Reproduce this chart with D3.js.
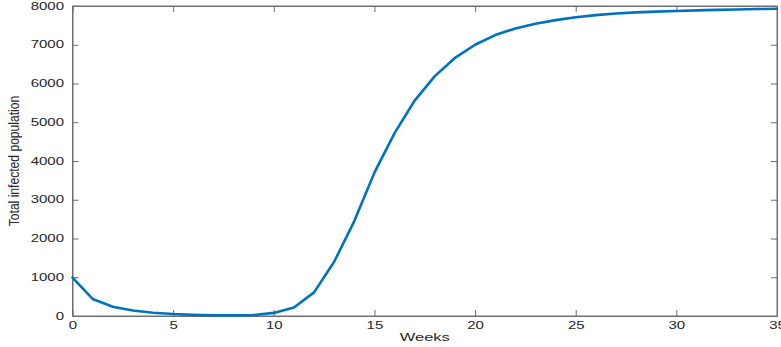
<!DOCTYPE html>
<html>
<head>
<meta charset="utf-8">
<script src="https://cdn.jsdelivr.net/npm/d3@7"></script>
<style>
  html, body { margin: 0; padding: 0; background: #fff; }
  svg { display: block; }
  text { font-family: "Liberation Sans", Arial, Helvetica, sans-serif; fill: #262626; }
</style>
</head>
<body>
<svg id="chart" width="781" height="347"></svg>
<script>
const weeks = d3.range(0, 36);
const infected = [990, 440, 240, 140, 85, 50, 30, 20, 15, 25,
                  80, 220, 610, 1400, 2450, 3700, 4720, 5560, 6190, 6660,
                  7000, 7250, 7420, 7540, 7635, 7710, 7765, 7805, 7835, 7855,
                  7872, 7887, 7900, 7911, 7921, 7930];
const xTicks = [0, 5, 10, 15, 20, 25, 30, 35];
const yTicks = [0, 1000, 2000, 3000, 4000, 5000, 6000, 7000, 8000];
const xLabel = "Weeks";
const yLabel = "Total infected population";

const svg = d3.select("#chart");
const pL = 72.5, pR = 777, pT = 6, pB = 316;
const x = d3.scaleLinear().domain([0, 35]).range([pL, pR]);
const y = d3.scaleLinear().domain([0, 8000]).range([pB, pT]);
const axisColor = "#6e6e6e";
const sx = 1.5;

// box
svg.append("rect").attr("x", pL).attr("y", pT)
  .attr("width", pR - pL).attr("height", pB - pT)
  .attr("fill", "none").attr("stroke", axisColor).attr("stroke-width", 1);

// bottom axis
const gx = svg.append("g").attr("transform", `translate(0,${pB})`)
  .call(d3.axisBottom(x).tickValues(xTicks).tickSizeInner(-6).tickSizeOuter(0).tickPadding(8));
gx.select(".domain").attr("stroke", axisColor);
gx.selectAll(".tick line").attr("stroke", axisColor);
gx.selectAll(".tick text").attr("font-size", 10).attr("fill", "#262626")
  .attr("y", 6).attr("dy", "0.71em").attr("transform", `scale(${sx},1)`);

// top ticks
const gt = svg.append("g").attr("transform", `translate(0,${pT})`)
  .call(d3.axisTop(x).tickValues(xTicks).tickSizeInner(-6).tickSizeOuter(0).tickFormat(""));
gt.select(".domain").attr("stroke", axisColor);
gt.selectAll(".tick line").attr("stroke", axisColor);

// left axis
const gy = svg.append("g").attr("transform", `translate(${pL},0)`)
  .call(d3.axisLeft(y).tickValues(yTicks).tickSizeInner(-6).tickSizeOuter(0).tickFormat(d3.format("d")));
gy.select(".domain").attr("stroke", axisColor);
gy.selectAll(".tick line").attr("stroke", axisColor);
gy.selectAll(".tick text").attr("font-size", 10).attr("fill", "#262626")
  .attr("x", -8.5 / sx).attr("transform", `scale(${sx},1)`);

// right ticks
const gr = svg.append("g").attr("transform", `translate(${pR},0)`)
  .call(d3.axisRight(y).tickValues(yTicks).tickSizeInner(-6).tickSizeOuter(0).tickFormat(""));
gr.select(".domain").attr("stroke", axisColor);
gr.selectAll(".tick line").attr("stroke", axisColor);

// line
const line = d3.line().x((d, i) => x(weeks[i])).y(d => y(d));
svg.append("path").datum(infected)
  .attr("d", line).attr("fill", "none")
  .attr("stroke", "#0072BD").attr("stroke-width", 2.6)
  .attr("stroke-linejoin", "round").attr("stroke-linecap", "round");

// labels
svg.append("text").attr("transform", `translate(${(pL + pR) / 2},341) scale(${sx},1)`)
  .attr("text-anchor", "middle").attr("font-size", 11).text(xLabel);

svg.append("text").attr("transform", `translate(18.5,${(pT + pB) / 2}) rotate(-90) scale(0.865,1)`)
  .attr("text-anchor", "middle").attr("font-size", 14).text(yLabel);
</script>
</body>
</html>
